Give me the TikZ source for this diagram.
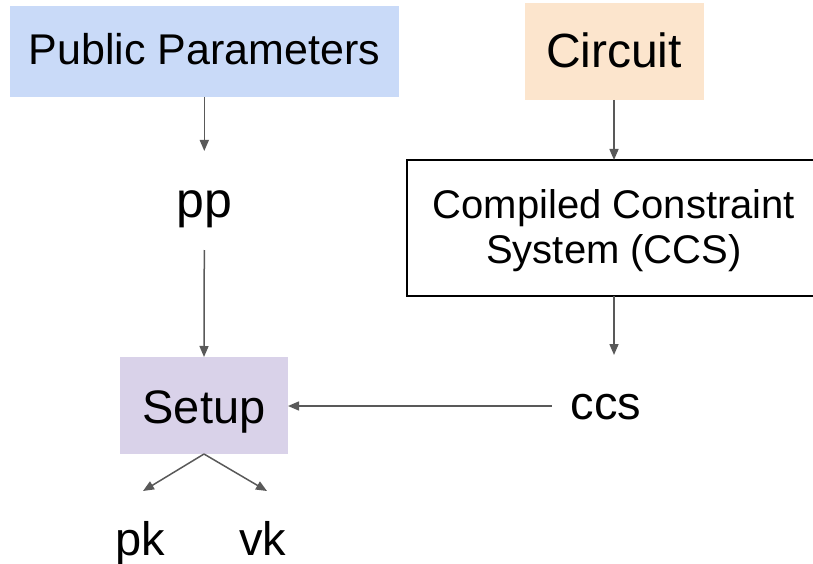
\documentclass[tikz,border=0pt]{standalone}
\usepackage{fontspec}
\setmainfont{Liberation Sans}
\usetikzlibrary{arrows.meta}
\definecolor{ppblue}{HTML}{C9DAF8}
\definecolor{circorange}{HTML}{FCE5CD}
\definecolor{setuppurple}{HTML}{D9D2E9}
\definecolor{arrowgray}{HTML}{595959}

\begin{document}
\begin{tikzpicture}[x=1pt,y=-1pt,
  box/.style={draw=none, inner sep=0pt, outer sep=0pt},
  flow/.style={draw=arrowgray, line width=1.5pt, -{Triangle[length=11pt,width=9pt]}},
  lbl/.style={inner sep=0pt, outer sep=0pt, anchor=base, font=\fontsize{47}{54}\selectfont}
]
\useasboundingbox (0,0) rectangle (813,564);
\clip (0,0) rectangle (813,564);

% input boxes
\node[box, fill=ppblue, minimum width=389pt, minimum height=91pt,
      font=\fontsize{43}{50}\selectfont, text height=31pt, text depth=4pt]
      (params) at (204.5,51.5) {Public Parameters};
\node[box, fill=circorange, minimum width=179pt, minimum height=97pt,
      font=\fontsize{48}{55}\selectfont, text height=34pt, text depth=1pt]
      (circuit) at (614,51.5) {Circuit};

% compiled constraint system; its right side runs off the edge
\node[box, minimum width=414pt, minimum height=136pt, align=center,
      text height=79pt, text depth=8.5pt,
      font=\fontsize{40}{45}\selectfont]
      (ccsbox) at (614,228) {Compiled Constraint\\System (CCS)};
\draw[black, line width=1.5pt]
  (ccsbox.north east) -- (ccsbox.north west) -- (ccsbox.south west) -- (ccsbox.south east);

% setup
\node[box, fill=setuppurple, minimum width=168pt, minimum height=97pt,
      font=\fontsize{47}{54}\selectfont, text height=35pt, text depth=0pt]
      (setup) at (204,405.5) {Setup};

% intermediate values and outputs
\node[lbl, font=\fontsize{50}{58}\selectfont, text height=66pt, text depth=33pt]
      (pp) at (204.3,217) {pp};
\node[lbl, inner xsep=19pt, text height=64pt, text depth=38pt]
      (ccs) at (606,419) {ccs};
\node[lbl, text height=64pt, text depth=10pt] (pk) at (140,555) {pk};
\node[lbl, text height=64pt, text depth=10pt] (vk) at (262.5,555) {vk};

% connectors
\draw[flow] (pp.north |- params.south) -- (pp.north);
\draw[flow] (pp.south) -- (setup.north);
\draw[flow] (circuit.south) -- (ccsbox.north);
\draw[flow] (ccsbox.south) -- (ccsbox.south |- ccs.north);
\draw[flow] (ccs.west) -- (ccs.west -| setup.east);
\draw[flow] (setup.south) -- ([xshift=3pt]pk.north);
\draw[flow] (setup.south) -- ([xshift=4.5pt]vk.north);
\end{tikzpicture}
\end{document}
